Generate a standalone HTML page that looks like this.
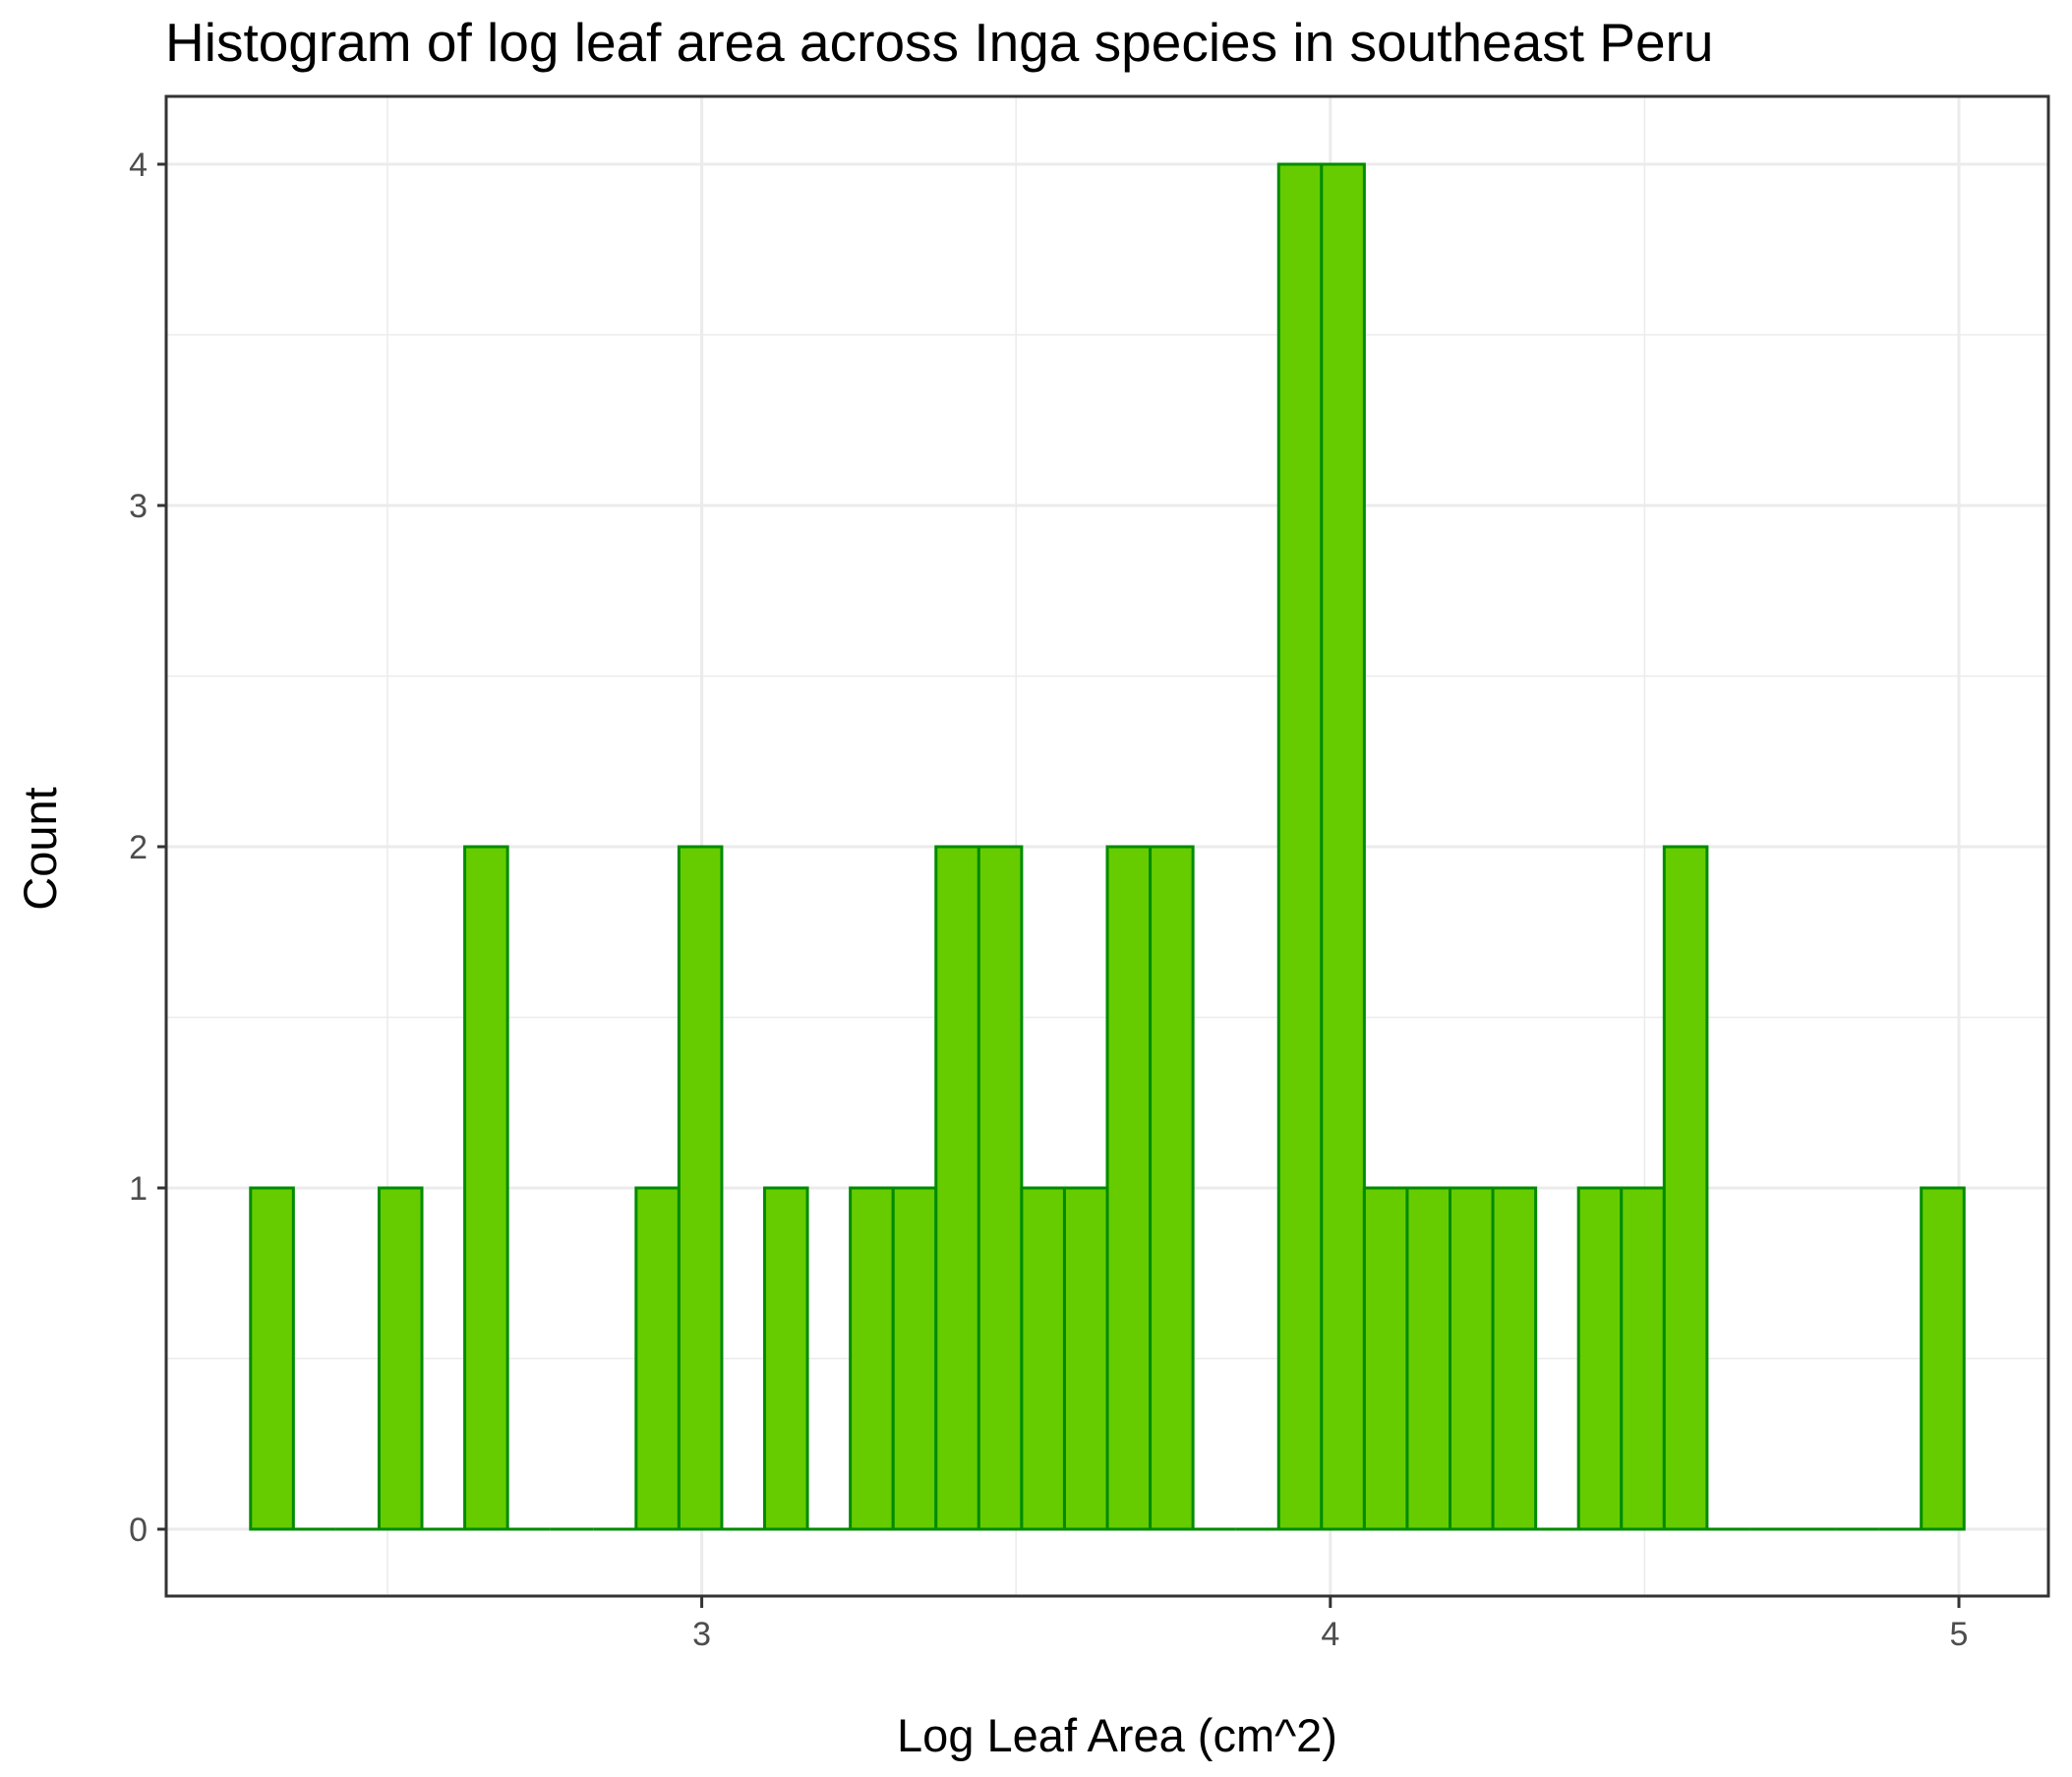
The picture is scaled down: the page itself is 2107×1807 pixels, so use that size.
<!DOCTYPE html>
<html><head><meta charset="utf-8"><style>body{margin:0;background:#fff}svg{display:block;font-family:"Liberation Sans",Arial,sans-serif}</style></head>
<body>
<svg id="chart" width="2107" height="1807" viewBox="0 0 2107 1807">
<text x="168" y="62" font-size="55" fill="#000">Histogram of log leaf area across Inga species in southeast Peru</text>
<g id="grid"></g><g id="bars"></g><g id="axes"></g>
<text x="1136" y="1781" font-size="47" text-anchor="middle" fill="#000">Log Leaf Area (cm^2)</text>
<text transform="translate(57,863) rotate(-90)" font-size="47" text-anchor="middle" fill="#000">Count</text>
</svg>
<script>
const binStart = 2.2822;
const binWidth = 0.06815;
const counts = [1,0,0,1,0,2,0,0,0,1,2,0,1,0,1,1,2,2,1,1,2,2,0,0,4,4,1,1,1,1,0,1,1,2,0,0,0,0,0,1];
const xTicks = [3,4,5];
const xMinor = [2.5,3.5,4.5];
const yTicks = [0,1,2,3,4];
const yMinor = [0.5,1.5,2.5,3.5];
const NS='http://www.w3.org/2000/svg';
const L=169,R=2083,T=98,B=1623;
const sx=v=>394+(v-2.5)*639.2;
const sy=v=>1555-v*347;
function mk(tag,attrs,parent){const e=document.createElementNS(NS,tag);for(const k in attrs)e.setAttribute(k,attrs[k]);parent.appendChild(e);return e;}
const grid=document.getElementById('grid'),bars=document.getElementById('bars'),axes=document.getElementById('axes');
yMinor.forEach(v=>{const e=mk('line',{x1:L,x2:R,y1:sy(v),y2:sy(v),stroke:'#ebebeb','stroke-width':1.5},grid);

});
xMinor.forEach(v=>{const e=mk('line',{x1:sx(v),x2:sx(v),y1:T,y2:B,stroke:'#ebebeb','stroke-width':1.5},grid);

});
yTicks.forEach(v=>{const e=mk('line',{x1:L,x2:R,y1:sy(v),y2:sy(v),stroke:'#ebebeb','stroke-width':3},grid);


const t=mk('line',{x1:L-9,x2:L,y1:sy(v),y2:sy(v),stroke:'#333','stroke-width':3},axes);


const lb=mk('text',{x:L-19,y:sy(v)+12,'font-size':34,'text-anchor':'end',fill:'#4d4d4d'},axes);lb.textContent=v;

});
xTicks.forEach(v=>{const e=mk('line',{x1:sx(v),x2:sx(v),y1:T,y2:B,stroke:'#ebebeb','stroke-width':3},grid);


const t=mk('line',{x1:sx(v),x2:sx(v),y1:B,y2:B+12,stroke:'#333','stroke-width':3},axes);


const lb=mk('text',{x:sx(v),y:B+50,'font-size':34,'text-anchor':'middle',fill:'#4d4d4d'},axes);lb.textContent=v;

});
counts.forEach((c,i)=>{const x0=sx(binStart+i*binWidth),x1=sx(binStart+(i+1)*binWidth);
if(c===0){
const z=mk('line',{x1:x0,x2:x1,y1:sy(0),y2:sy(0),stroke:'#008b00','stroke-width':3},bars);


return;}
const r=mk('rect',{x:x0,y:sy(c),width:x1-x0,height:sy(0)-sy(c),fill:'#66cc00',stroke:'#008b00','stroke-width':3},bars);

});
const p=mk('rect',{x:L,y:T,width:R-L,height:B-T,fill:'none',stroke:'#333','stroke-width':3},axes);


</script>
</body></html>
